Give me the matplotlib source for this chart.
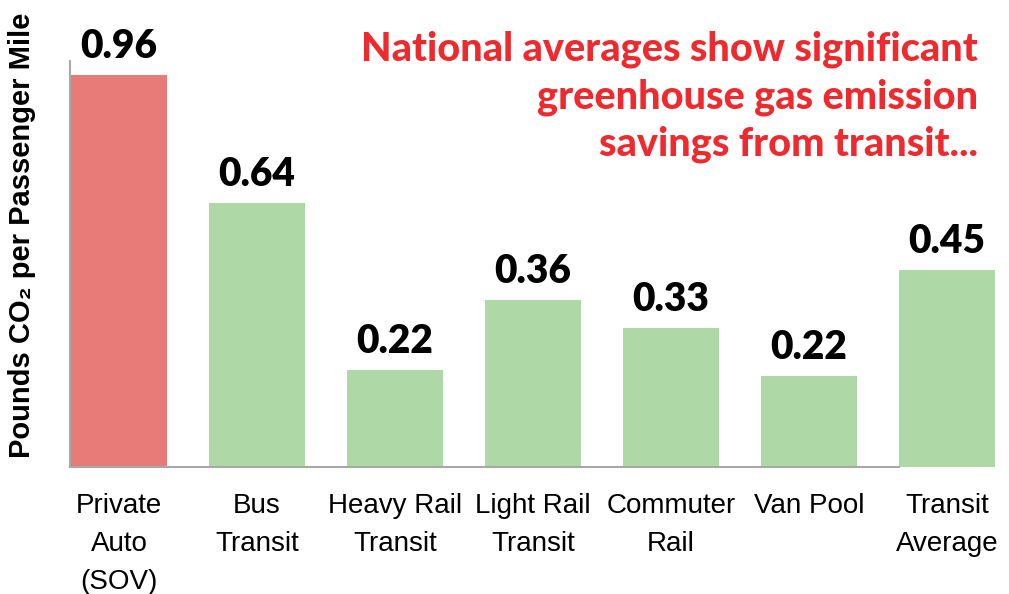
import matplotlib
matplotlib.use("Agg")
import matplotlib.pyplot as plt

categories = ["Private\nAuto\n(SOV)", "Bus\nTransit", "Heavy Rail\nTransit", "Light Rail\nTransit",
              "Commuter\nRail", "Van Pool", "Transit\nAverage"]
# bar heights as drawn in the picture
bar_heights = [0.96, 0.647, 0.238, 0.409, 0.340, 0.223, 0.482]
# value labels as printed above the bars
value_labels = ["0.96", "0.64", "0.22", "0.36", "0.33", "0.22", "0.45"]
bar_colors = ["#e87b78", "#aed8a6", "#aed8a6", "#aed8a6", "#aed8a6", "#aed8a6", "#aed8a6"]

title_lines = "National averages show significant\ngreenhouse gas emission\nsavings from transit..."
ylabel = "Pounds CO\u2082 per Passenger Mile"

fig = plt.figure(figsize=(10.09, 5.94), dpi=100)
ax = fig.add_axes([70/1009, 127/594, 932/1009, 406/594])

x = list(range(len(categories)))
ax.bar(x, bar_heights, width=0.70, color=bar_colors, zorder=2)
ax.set_xlim(-0.355, 6.4)
ax.set_ylim(0, 0.994)

for xi, h, lab in zip(x, bar_heights, value_labels):
    ax.annotate(lab, (xi, h), xytext=(0, 7), textcoords="offset points",
                ha="center", va="bottom", fontsize=28, fontweight="heavy",
                family=["Lato", "DejaVu Sans"], color="black")

ax.set_xticks(x)
ax.set_xticklabels(categories, fontsize=20, family=["Liberation Sans", "DejaVu Sans"],
                   linespacing=1.6, va="top")
ax.tick_params(axis="x", length=0, pad=19)
ax.set_yticks([])

for s in ["top", "right"]:
    ax.spines[s].set_visible(False)
ax.spines["left"].set_color("#a8a8a8")
ax.spines["left"].set_linewidth(1.5)
ax.spines["bottom"].set_color("#a8a8a8")
ax.spines["bottom"].set_linewidth(1.5)
ax.spines["bottom"].set_bounds(-0.355, 5.65)

fig.text(22/1009, 1 - 235/594, ylabel, rotation=90, ha="center", va="center",
         fontsize=21, fontweight="bold", family=["Liberation Sans", "DejaVu Sans"])

fig.text(978/1009, 1 - 31/594, title_lines, ha="right", va="top", fontsize=28.5,
         fontweight="black", color="#ee2a2f", family=["Lato", "DejaVu Sans"],
         linespacing=1.33, multialignment="right")

fig.savefig("out.png", dpi=100)
